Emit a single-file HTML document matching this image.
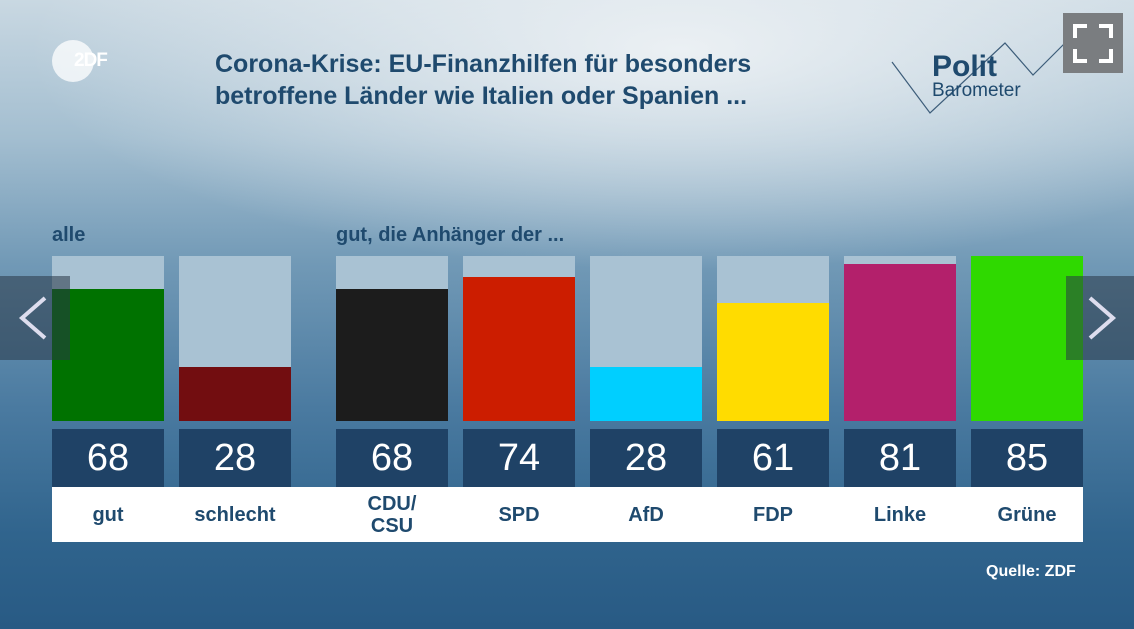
<!DOCTYPE html>
<html><head><meta charset="utf-8"><style>
body{margin:0;width:1134px;height:629px;overflow:hidden;font-family:"Liberation Sans",sans-serif}
#bg{position:absolute;left:0;top:0;width:1134px;height:629px;
background:radial-gradient(ellipse 650px 220px at 680px 50px,rgba(238,242,245,0.95),rgba(238,242,245,0) 100%),linear-gradient(180deg,#c9d8e2 0%,#a3bed0 22%,#7199b6 42%,#4a7aa0 65%,#30648d 85%,#285a84 100%)}
.t{position:absolute;color:#1f4a6e;font-weight:bold}
.box{position:absolute;}
</style></head><body>
<div id="bg"></div>
<div class="box" style="left:52px;top:40px;width:42px;height:42px;border-radius:50%;background:rgba(255,255,255,0.75)"></div>
<div class="box" style="left:74px;top:50px;color:#fff;font-size:19px;font-weight:bold;letter-spacing:-1px">2DF</div>
<div class="t" style="left:215px;top:48px;font-size:25px;line-height:32px">Corona-Krise: EU-Finanzhilfen für besonders<br>betroffene Länder wie Italien oder Spanien ...</div>
<svg class="box" style="left:880px;top:10px" width="200" height="110"><polyline points="12,52 50,103 125,33 153,65 185,33" fill="none" stroke="#3d5d7a" stroke-width="1.2"/><text x="52" y="66" font-family="Liberation Sans" font-weight="bold" font-size="30" fill="#1f4a6e">Polit</text><text x="52" y="86" font-family="Liberation Sans" font-size="19" fill="#1f4a6e">Barometer</text></svg>
<div class="box" style="left:1063px;top:13px;width:60px;height:60px;background:#7a7d80"><svg width="60" height="60"><path d="M12,25V13H24M36,13H48V25M48,36V48H36M24,48H12V36" fill="none" stroke="#fff" stroke-width="4"/></svg></div>
<div class="t" style="left:52px;top:224px;font-size:20px">alle</div>
<div class="t" style="left:336px;top:224px;font-size:20px">gut, die Anhänger der ...</div>
<div id="chart"></div>
<div class="box" style="left:0;top:276px;width:70px;height:84px;background:rgba(40,55,70,0.55)"><svg width="70" height="84"><polyline points="45,22 22,42 45,62" fill="none" stroke="#dde" stroke-width="4"/></svg></div>
<div class="box" style="left:1066px;top:276px;width:68px;height:84px;background:rgba(40,55,70,0.55)"><svg width="68" height="84"><polyline points="24,22 47,42 24,62" fill="none" stroke="#dde" stroke-width="4"/></svg></div>
<div class="t" style="left:986px;top:563px;font-size:16px;color:#fff">Quelle: ZDF</div>
<script>
const labels=["gut","schlecht","CDU/<br>CSU","SPD","AfD","FDP","Linke","Grüne"];
const values=[68,28,68,74,28,61,81,85];
const colors=["#007200","#720d10","#1c1c1c","#cc1d00","#00cfff","#ffdc00","#b3206b","#2fd900"];
const xs=[52,179,336,463,590,717,844,971];
const maxV=85,topY=256,botY=421,hh=botY-topY;
const c=document.getElementById('chart');
function yPos(v){return botY-v/maxV*hh;}
const s=document.createElement('div');


s.style.cssText='position:absolute;left:52px;top:487px;width:1031px;height:55px;background:#fff';
c.appendChild(s);
labels.forEach((l,i)=>{
 const x=xs[i];
 const tr=document.createElement('div');
 
 
 tr.style.cssText=`position:absolute;left:${x}px;top:${topY}px;width:112px;height:${hh}px;background:#a9c2d3`;
 c.appendChild(tr);
 const b=document.createElement('div');
 
 
 b.style.cssText=`position:absolute;left:${x}px;top:${yPos(values[i])}px;width:112px;height:${botY-yPos(values[i])}px;background:${colors[i]}`;
 c.appendChild(b);
 const v=document.createElement('div');
 
 
 v.style.cssText=`position:absolute;left:${x}px;top:429px;width:112px;height:58px;background:#1f4266;color:#fff;font-size:38px;line-height:58px;text-align:center`;
 v.textContent=values[i];
 c.appendChild(v);
 const lb=document.createElement('div');
 
 
 lb.style.cssText=`position:absolute;left:${x}px;top:487px;width:112px;height:55px;color:#1f4a6e;font-weight:bold;font-size:20px;display:flex;align-items:center;justify-content:center;text-align:center;line-height:22px`;
 lb.innerHTML=l;
 c.appendChild(lb);
});
</script>
</body></html>
